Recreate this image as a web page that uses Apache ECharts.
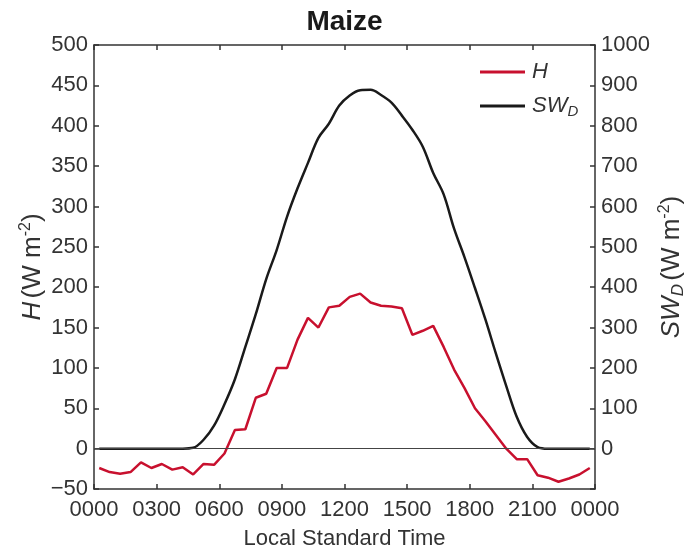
<!DOCTYPE html>
<html>
<head>
<meta charset="utf-8">
<script src="https://cdn.jsdelivr.net/npm/echarts@6/dist/echarts.min.js"></script>
<style>
html,body{margin:0;padding:0;background:#fff;}
#chart{width:689px;height:547px;}
</style>
</head>
<body>
<div id="chart"></div>
<script>
// Time of each half-hourly value (hours, local standard time)
const TIME_H = [0.25,0.75,1.25,1.75,2.25,2.75,3.25,3.75,4.25,4.75,5.25,5.75,
  6.25,6.75,7.25,7.75,8.25,8.75,9.25,9.75,10.25,10.75,11.25,11.75,
  12.25,12.75,13.25,13.75,14.25,14.75,15.25,15.75,16.25,16.75,17.25,17.75,
  18.25,18.75,19.25,19.75,20.25,20.75,21.25,21.75,22.25,22.75,23.25,23.75];
// Sensible heat flux H (W m-2)
const H_VALUES = [-24,-29,-31,-29,-17,-24,-19,-26,-23,-32,-19,-20,
  -6,23,24,63,68,100,100,135,162,150,175,177,
  188,192,181,177,176,174,141,146,152,126,98,75,
  50,34,17,0,-13,-13,-33,-36,-41,-37,-32,-24];
// Downwelling shortwave radiation SW_D (W m-2)
const SWD_VALUES = [0,0,0,0,0,0,0,0,0,2,22,57,
  110,172,252,333,420,492,575,645,708,770,805,850,
  875,888,889,876,857,825,790,748,683,630,545,474,
  398,320,236,155,79,29,4,0,0,0,0,0];
const X_TICKS = [0,3,6,9,12,15,18,21,24];
const X_TICK_LABELS = ['0000','0300','0600','0900','1200','1500','1800','2100','0000'];

const FONT = 'Liberation Sans, Arial, Helvetica, sans-serif';
const AXIS_COLOR = '#333';
const LABEL_COLOR = '#333';

const hData = TIME_H.map((t,i)=>[t,H_VALUES[i]]);
const swData = TIME_H.map((t,i)=>[t,SWD_VALUES[i]]);

const chart = echarts.init(document.getElementById('chart'), null, {renderer:'canvas'});
const baseAxisLine = {show:true, lineStyle:{color:AXIS_COLOR, width:1.5}};
const nameRich = {
  i:{fontFamily:FONT, fontSize:26, fontStyle:'italic', color:LABEL_COLOR, lineHeight:30},
  n:{fontFamily:FONT, fontSize:26, color:LABEL_COLOR, lineHeight:30},
  sub:{fontFamily:FONT, fontSize:17, fontStyle:'italic', color:LABEL_COLOR, lineHeight:13, verticalAlign:'bottom'},
  sup:{fontFamily:FONT, fontSize:16, color:LABEL_COLOR, lineHeight:13, verticalAlign:'top'}
};
const option = {
  backgroundColor:'#fff',
  animation:false,
  title:{
    text:'Maize', left:'center', top:3,
    textStyle:{fontFamily:FONT, fontSize:28, fontWeight:'bold', color:'#1a1a1a'}
  },
  legend:{
    orient:'vertical', left:480, top:61, padding:0, itemWidth:45, itemHeight:3, itemGap:12,
    icon:'rect',
    data:[{name:'H', itemStyle:{color:'#c8102e'}},{name:'SWD', itemStyle:{color:'#1a1a1a'}}],
    formatter:function(n){ return n==='H' ? '{i|H}' : '{i|SW}{sub|D}'; },
    textStyle:{fontFamily:FONT, color:LABEL_COLOR, padding:[0,0,0,2],
      rich:{
        i:{fontFamily:FONT, fontSize:22, fontStyle:'italic', color:LABEL_COLOR, lineHeight:26},
        sub:{fontFamily:FONT, fontSize:15, fontStyle:'italic', color:LABEL_COLOR, lineHeight:12, verticalAlign:'bottom'}
      }}
  },
  grid:{left:94, right:94, top:45, bottom:58, containLabel:false, outerBoundsMode:'none'},
  xAxis:[{
    type:'value', min:0, max:24, interval:3, position:'bottom',
    name:'Local Standard Time', nameLocation:'middle', nameGap:39, nameMoveOverlap:false,
    nameTextStyle:{fontFamily:FONT, fontSize:22, color:LABEL_COLOR, verticalAlign:'top'},
    axisLine:Object.assign({onZero:false}, baseAxisLine),
    axisTick:{show:true, inside:true, length:5, lineStyle:{color:AXIS_COLOR, width:1.5}},
    axisLabel:{fontFamily:FONT, fontSize:22, color:LABEL_COLOR, margin:10,
      formatter:function(v){ const k = X_TICKS.indexOf(v); return k>=0 ? X_TICK_LABELS[k] : ''; }},
    splitLine:{show:false}
  },{
    type:'value', min:0, max:24, interval:3, position:'top',
    axisLine:Object.assign({onZero:false}, baseAxisLine),
    axisTick:{show:true, inside:true, length:5, lineStyle:{color:AXIS_COLOR, width:1.5}},
    axisLabel:{show:false}, splitLine:{show:false}
  }],
  yAxis:[{
    type:'value', min:-50, max:500, interval:50, position:'left',
    name:'{i|H} {n|(W m}{sup|-2}{n|)}', nameLocation:'middle', nameRotate:90, nameGap:46, nameMoveOverlap:false,
    nameTextStyle:{fontFamily:FONT, color:LABEL_COLOR, rich:nameRich},
    axisLine:Object.assign({onZero:false}, baseAxisLine),
    axisTick:{show:true, inside:true, length:5, lineStyle:{color:AXIS_COLOR, width:1.5}},
    axisLabel:{fontFamily:FONT, fontSize:22, color:LABEL_COLOR, margin:6,
      formatter:function(v){ return String(v).replace('-', '\u2212'); }},
    splitLine:{show:false}
  },{
    type:'value', min:-100, max:1000, interval:100, position:'right',
    name:'{i|SW}{sub|D} {n|(W m}{sup|-2}{n|)}', nameLocation:'middle', nameRotate:90, nameGap:62, nameMoveOverlap:false,
    nameTextStyle:{fontFamily:FONT, color:LABEL_COLOR, rich:nameRich},
    axisLine:Object.assign({onZero:false}, baseAxisLine),
    axisTick:{show:true, inside:true, length:5, lineStyle:{color:AXIS_COLOR, width:1.5}},
    axisLabel:{fontFamily:FONT, fontSize:22, color:LABEL_COLOR, margin:6,
      formatter:function(v){ return v<0 ? '' : String(v); }},
    splitLine:{show:false}
  }],
  series:[{
    name:'SWD', type:'line', xAxisIndex:0, yAxisIndex:1, data:swData,
    showSymbol:false, symbol:'none', smooth:0.35,
    lineStyle:{color:'#1a1a1a', width:2.5}, itemStyle:{color:'#1a1a1a'},
    markLine:{silent:true, symbol:'none', label:{show:false},
      lineStyle:{color:'#444', width:1, type:'solid'},
      data:[{yAxis:0}]},
    z:3
  },{
    name:'H', type:'line', xAxisIndex:0, yAxisIndex:0, data:hData,
    showSymbol:false, symbol:'none', smooth:false,
    lineStyle:{color:'#c8102e', width:2.5}, itemStyle:{color:'#c8102e'},
    z:4
  }]
};
chart.setOption(option);
</script>
</body>
</html>
